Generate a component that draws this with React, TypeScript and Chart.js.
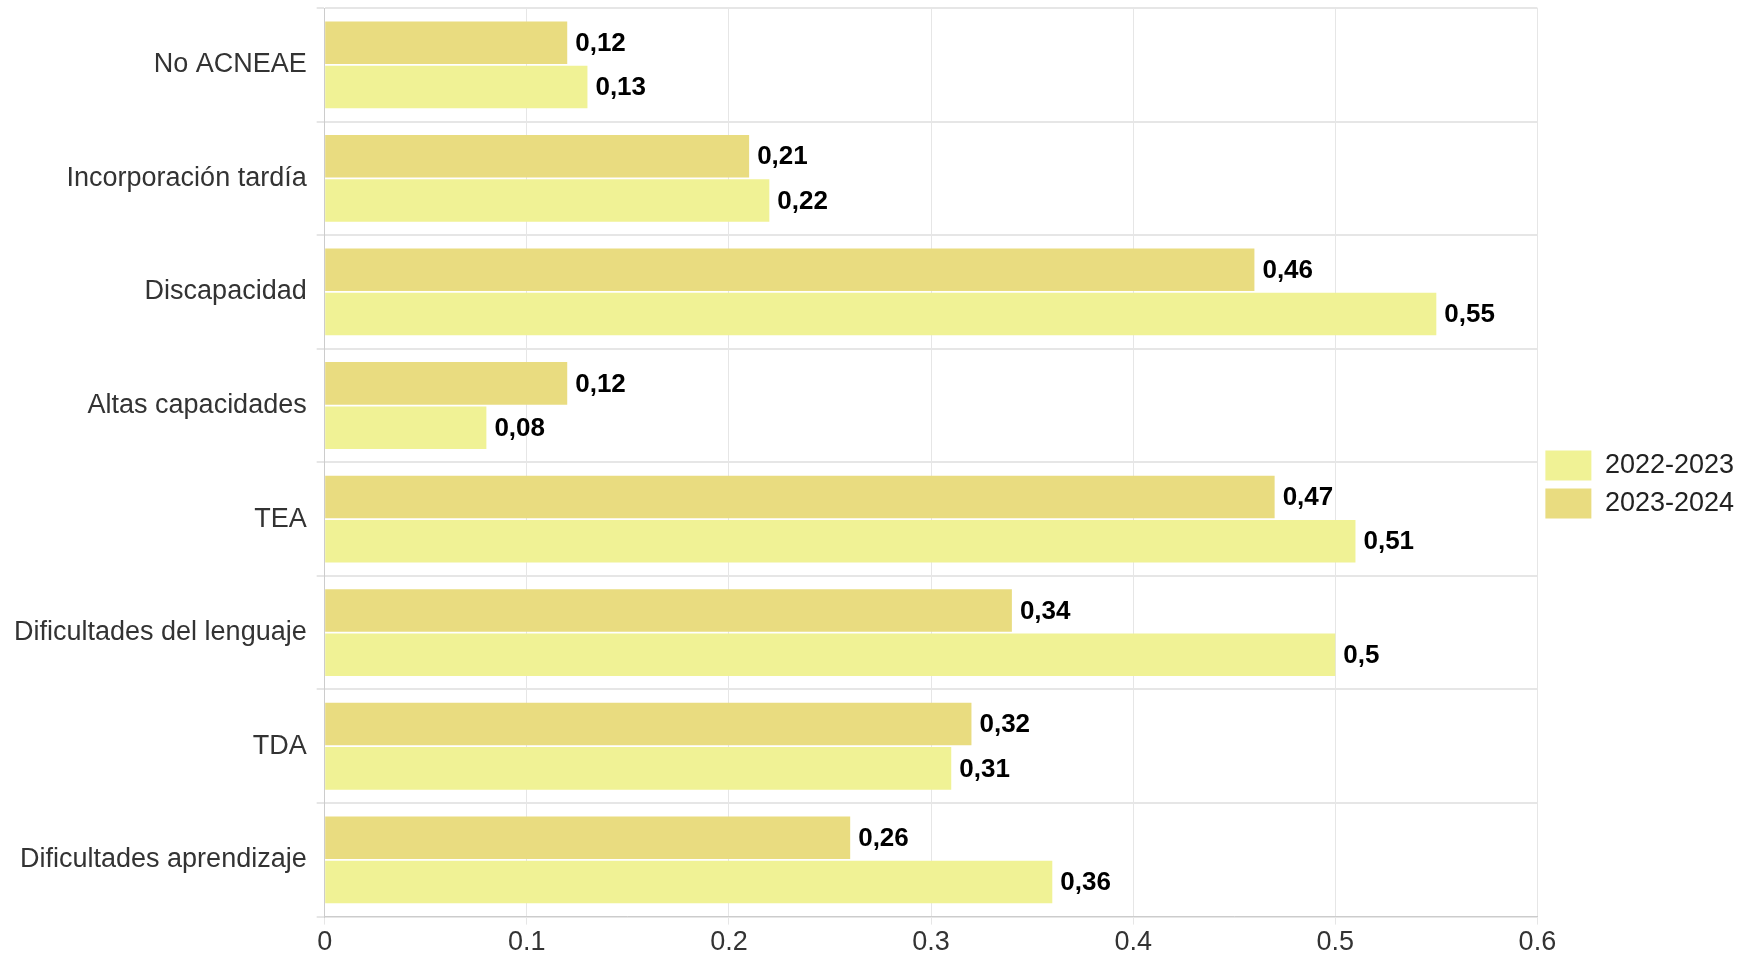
import React, { useEffect, useRef } from "react";
import { Chart, registerables, Plugin } from "chart.js";

Chart.register(...registerables);

const categories = [
  "No ACNEAE",
  "Incorporación tardía",
  "Discapacidad",
  "Altas capacidades",
  "TEA",
  "Dificultades del lenguaje",
  "TDA",
  "Dificultades aprendizaje",
];
const values2324 = [0.12, 0.21, 0.46, 0.12, 0.47, 0.34, 0.32, 0.26];
const values2223 = [0.13, 0.22, 0.55, 0.08, 0.51, 0.5, 0.31, 0.36];

const FONT = "'Liberation Sans', Arial, sans-serif";

const valueLabels: Plugin<"bar"> = {
  id: "valueLabels",
  afterDatasetsDraw(chart) {
    const ctx = chart.ctx;
    ctx.save();
    ctx.font = `bold 26px ${FONT}`;
    ctx.fillStyle = "#000";
    ctx.textBaseline = "middle";
    ctx.textAlign = "left";
    chart.data.datasets.forEach((ds, i) => {
      const meta = chart.getDatasetMeta(i);
      meta.data.forEach((bar, j) => {
        const v = ds.data[j] as number;
        ctx.fillText(String(v).replace(".", ","), bar.x + 8, bar.y + 1);
      });
    });
    ctx.restore();
  },
};

const App: React.FC = () => {
  const canvasRef = useRef<HTMLCanvasElement | null>(null);

  useEffect(() => {
    document.body.style.margin = "0";
    if (!canvasRef.current) return;
    const chart = new Chart(canvasRef.current, {
      type: "bar",
      data: {
        labels: categories,
        datasets: [
          {
            label: "2023-2024",
            data: values2324,
            backgroundColor: "#E9DC80",
            categoryPercentage: 0.78,
            barPercentage: 0.96,
          },
          {
            label: "2022-2023",
            data: values2223,
            backgroundColor: "#F0F295",
            categoryPercentage: 0.78,
            barPercentage: 0.96,
          },
        ],
      },
      options: {
        indexAxis: "y",
        animation: false,
        responsive: true,
        maintainAspectRatio: false,
        layout: { padding: { top: 8, right: 0, bottom: 0, left: 4 } },
        plugins: {
          legend: {
            position: "right",
            reverse: true,
            labels: {
              boxWidth: 46,
              boxHeight: 30,
              padding: 8,
              color: "#222",
              font: { size: 27, family: FONT },
            },
          },
          tooltip: { enabled: false },
        },
        scales: {
          x: {
            min: 0,
            max: 0.6,
            ticks: {
              stepSize: 0.1,
              color: "#333",
              padding: 2,
              font: { size: 27, family: FONT },
            },
            grid: { color: "#e6e6e6" },
            border: { color: "#ccc" },
          },
          y: {
            afterFit: (s: any) => {
              s.paddingTop = 0;
              s.paddingBottom = 0;
            },
            ticks: {
              color: "#333",
              padding: 10,
              font: { size: 27, family: FONT },
            },
            grid: { offset: true, color: "#e6e6e6", lineWidth: 2 },
            border: { color: "#ccc" },
          },
        },
      },
      plugins: [valueLabels],
    });
    return () => chart.destroy();
  }, []);

  return (
    <div style={{ width: 1744, height: 961, background: "#fff" }}>
      <canvas ref={canvasRef} />
    </div>
  );
};

export default App;
